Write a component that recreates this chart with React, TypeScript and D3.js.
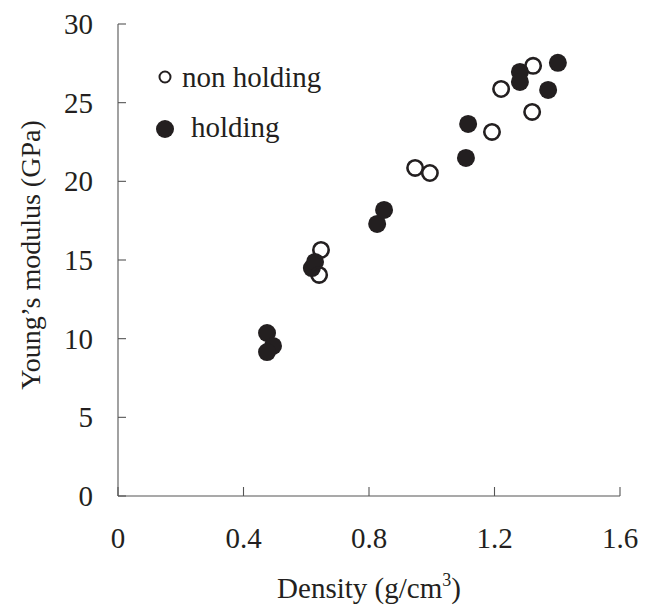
import React from 'react'
import * as d3 from 'd3'

// density (g/cm3) and Young's modulus (GPa)
const openDensity = [0.647, 0.641, 0.947, 0.994, 1.192, 1.221, 1.323, 1.32]
const openModulus = [15.64, 14.05, 20.85, 20.53, 23.14, 25.87, 27.34, 24.41]

const filledDensity = [0.475, 0.494, 0.475, 0.618, 0.628, 0.826, 0.848, 1.109, 1.116, 1.281, 1.281, 1.371, 1.402]
const filledModulus = [10.36, 9.54, 9.15, 14.49, 14.88, 17.29, 18.18, 21.49, 23.65, 26.95, 26.32, 25.81, 27.53]

const xTicks = [0, 0.4, 0.8, 1.2, 1.6]
const yTicks = [0, 5, 10, 15, 20, 25, 30]

const width = 650
const height = 612
const ink = '#231f20'
const txt = { fontFamily: "'Liberation Serif', 'Times New Roman', serif", fill: ink }

const x = d3.scaleLinear().domain([0, 1.6]).range([118, 620])
const y = d3.scaleLinear().domain([0, 30]).range([496, 24])

const App = () => {
  const fmtX = (v: number) => (v === 0 ? '0' : d3.format('.1f')(v))
  return (
    <svg
      width={width}
      height={height}
      style={{ position: 'absolute', left: 0, top: 0, background: '#fff' }}
    >
      {/* axes */}
      <g stroke="#555" strokeWidth={1.1} fill="none">
        <line x1={x(0)} x2={x(0)} y1={y(30)} y2={y(0)} />
        <line x1={x(0)} x2={x(1.6)} y1={y(0)} y2={y(0)} />
        {yTicks.map(t => (
          <line key={'yt' + t} x1={x(0)} x2={x(0) + 8} y1={y(t)} y2={y(t)} />
        ))}
        {xTicks.map(t => (
          <line key={'xt' + t} x1={x(t)} x2={x(t)} y1={y(0)} y2={y(0) - 9} />
        ))}
      </g>
      {yTicks.map(t => (
        <text key={'yl' + t} x={93} y={y(t)} dy="0.35em" textAnchor="end" fontSize={29} style={txt}>
          {t}
        </text>
      ))}
      {xTicks.map(t => (
        <text key={'xl' + t} x={x(t)} y={548} textAnchor="middle" fontSize={29} style={txt}>
          {fmtX(t)}
        </text>
      ))}
      <text x={x(0.8)} y={598} textAnchor="middle" fontSize={29} style={txt}>
        Density (g/cm<tspan dy={-12} fontSize={18}>3</tspan>
        <tspan dy={12}>)</tspan>
      </text>
      <text transform="translate(40,255) rotate(-90)" textAnchor="middle" fontSize={28} style={txt}>
        Young’s modulus (GPa)
      </text>

      {/* data */}
      {filledDensity.map((d, i) => (
        <circle key={'f' + i} cx={x(d)} cy={y(filledModulus[i])} r={9} fill={ink} />
      ))}
      {openDensity.map((d, i) => (
        <circle
          key={'o' + i}
          cx={x(d)}
          cy={y(openModulus[i])}
          r={7.7}
          fill="none"
          stroke={ink}
          strokeWidth={2.6}
        />
      ))}

      {/* legend */}
      <circle cx={165} cy={77} r={5.5} fill="none" stroke={ink} strokeWidth={2} />
      <text x={182} y={87} fontSize={29} style={txt}>non holding</text>
      <circle cx={165} cy={129} r={9} fill={ink} />
      <text x={191} y={137} fontSize={29} style={txt}>holding</text>
    </svg>
  )
}

export default App
